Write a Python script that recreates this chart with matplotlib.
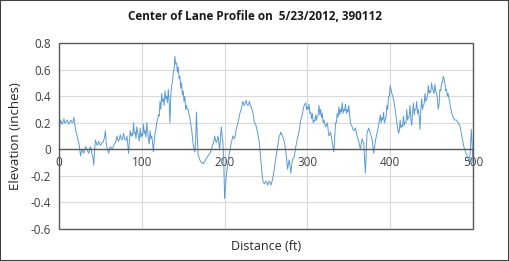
import numpy as np
import matplotlib
matplotlib.use("Agg")
import matplotlib.pyplot as plt
from matplotlib.patches import Rectangle

title = "Center of Lane Profile on  5/23/2012, 390112"
x_label = "Distance (ft)"
y_label = "Elevation (inches)"
x_ticks = [0, 100, 200, 300, 400, 500]
y_ticks = [-0.6, -0.4, -0.2, 0, 0.2, 0.4, 0.6, 0.8]
y_tick_labels = ["-0.6", "-0.4", "-0.2", "0", "0.2", "0.4", "0.6", "0.8"]

# elevation at even distances 0, 2, ..., 500 ft
elevation_even = [
    0.13, 0.22, 0.19, 0.23, 0.20, 0.22, 0.19, 0.22, 0.20, 0.24,
    0.15, 0.10, 0.05, -0.05, 0.00, -0.03, 0.02, 0.00, -0.03, 0.02,
    -0.04, -0.12, 0.07, 0.03, 0.06, 0.03, 0.05, 0.07, 0.14, 0.01,
    -0.03, 0.02, 0.00, 0.03, 0.05, 0.10, 0.06, 0.11, 0.07, 0.12,
    0.07, 0.10, -0.03, 0.14, 0.12, 0.20, 0.13, 0.17, 0.10, 0.16,
    0.12, 0.19, 0.14, 0.20, 0.08, 0.14, 0.10, -0.02, 0.12, 0.20,
    0.26, 0.36, 0.42, 0.38, 0.44, 0.40, 0.45, 0.20, 0.48, 0.58,
    0.70, 0.65, 0.62, 0.55, 0.50, 0.44, 0.40, 0.33, 0.30, 0.24,
    0.16, 0.04, -0.02, 0.28, -0.04, -0.08, -0.10, -0.11, -0.09, -0.07,
    -0.05, -0.03, 0.00, 0.04, 0.10, 0.05, 0.10, 0.00, 0.17, 0.05,
    -0.37, -0.20, -0.10, -0.02, 0.05, 0.10, 0.08, 0.15, 0.20, 0.26,
    0.30, 0.36, 0.33, 0.37, 0.33, 0.36, 0.32, 0.28, 0.20, 0.18,
    0.12, 0.05, -0.10, -0.23, -0.26, -0.24, -0.27, -0.24, -0.27, -0.22,
    -0.15, -0.06, 0.02, 0.10, 0.13, 0.10, 0.06, -0.02, -0.15, -0.08,
    -0.18, -0.08, -0.06, 0.02, 0.08, 0.14, 0.22, 0.27, 0.33, 0.35,
    0.32, 0.34, 0.28, 0.27, 0.22, 0.26, 0.25, 0.33, 0.30, 0.27,
    0.22, 0.17, 0.20, 0.10, 0.13, 0.05, -0.02, 0.20, 0.27, 0.32,
    0.30, 0.35, 0.30, 0.34, 0.30, 0.33, 0.20, 0.17, 0.14, 0.16,
    0.10, 0.06, 0.00, 0.08, 0.05, -0.18, 0.12, 0.16, 0.12, 0.08,
    -0.03, 0.06, 0.12, 0.18, 0.26, 0.24, 0.28, 0.22, 0.33, 0.40,
    0.48, 0.42, 0.38, 0.30, 0.20, 0.12, 0.22, 0.18, 0.25, 0.20,
    0.30, 0.24, 0.33, 0.18, 0.35, 0.30, 0.36, 0.30, 0.15, 0.38,
    0.33, 0.42, 0.38, 0.48, 0.44, 0.50, 0.44, 0.49, 0.42, 0.30,
    0.45, 0.50, 0.55, 0.50, 0.45, 0.42, 0.35, 0.28, 0.24, 0.22,
    0.22, 0.20, 0.18, 0.12, 0.05, 0.00, -0.04, -0.07, -0.09, 0.15,
    -0.10,
]

# elevation at odd distances 1, 3, ..., 499 ft
elevation_odd = [
    0.18, 0.20, 0.21, 0.20, 0.21, 0.20, 0.20, 0.21, 0.21, 0.19,
    0.12, 0.07, 0.00, -0.02, -0.02, 0.00, 0.01, -0.02, 0.00, -0.01,
    -0.06, 0.00, 0.05, 0.04, 0.04, 0.04, 0.05, 0.09, 0.05, -0.01,
    0.00, 0.01, 0.01, 0.04, 0.07, 0.07, 0.08, 0.08, 0.09, 0.08,
    0.07, 0.04, 0.06, 0.10, 0.10, 0.12, 0.08, 0.13, 0.06, 0.09,
    0.10, 0.12, 0.09, 0.14, 0.04, 0.08, 0.05, 0.06, 0.15, 0.22,
    0.25, 0.30, 0.36, 0.33, 0.38, 0.35, 0.36, 0.40, 0.50, 0.60,
    0.64, 0.58, 0.53, 0.46, 0.41, 0.36, 0.30, 0.30, 0.26, 0.19,
    0.10, 0.01, 0.06, 0.10, -0.06, -0.09, -0.10, -0.10, -0.08, -0.06,
    -0.04, -0.02, 0.02, 0.06, 0.07, 0.07, 0.05, 0.08, 0.10, -0.10,
    -0.28, -0.15, -0.06, 0.01, 0.07, 0.09, 0.11, 0.17, 0.22, 0.28,
    0.33, 0.34, 0.35, 0.34, 0.34, 0.33, 0.30, 0.24, 0.19, 0.15,
    0.08, -0.03, -0.17, -0.25, -0.25, -0.25, -0.25, -0.25, -0.25, -0.19,
    -0.10, -0.02, 0.06, 0.11, 0.11, 0.08, 0.02, -0.08, -0.11, -0.13,
    -0.12, -0.07, -0.02, 0.05, 0.11, 0.18, 0.24, 0.30, 0.34, 0.30,
    0.30, 0.27, 0.23, 0.20, 0.21, 0.22, 0.26, 0.26, 0.24, 0.20,
    0.19, 0.18, 0.15, 0.11, 0.09, 0.02, 0.09, 0.20, 0.24, 0.26,
    0.28, 0.27, 0.29, 0.27, 0.28, 0.26, 0.18, 0.15, 0.15, 0.13,
    0.08, 0.03, 0.04, 0.06, -0.06, -0.03, 0.14, 0.14, 0.10, 0.03,
    0.01, 0.09, 0.15, 0.22, 0.20, 0.22, 0.20, 0.24, 0.30, 0.40,
    0.45, 0.40, 0.34, 0.25, 0.16, 0.14, 0.16, 0.17, 0.18, 0.20,
    0.22, 0.25, 0.22, 0.28, 0.26, 0.30, 0.27, 0.25, 0.30, 0.30,
    0.34, 0.36, 0.40, 0.42, 0.43, 0.46, 0.42, 0.44, 0.38, 0.34,
    0.44, 0.50, 0.53, 0.44, 0.40, 0.38, 0.31, 0.26, 0.23, 0.22,
    0.21, 0.19, 0.15, 0.08, 0.02, -0.02, -0.05, -0.08, 0.03, 0.02,
]

distance = np.arange(0, 501)
elevation = np.empty(501)
elevation[0::2] = elevation_even
elevation[1::2] = elevation_odd

plt.rcParams['font.family'] = ['Open Sans', 'DejaVu Sans']
fig = plt.figure(figsize=(5.09, 2.61), dpi=100)
W, H = 509, 261
ax = fig.add_axes([59 / W, 1 - 229 / H, (473 - 59) / W, (229 - 43) / H])

ax.plot(distance, elevation, color="#5b9bd5", linewidth=0.7)
ax.set_xlim(0, 500)
ax.set_ylim(-0.6, 0.8)
ax.set_xticks(x_ticks)
ax.set_yticks(y_ticks)
ax.set_yticklabels(y_tick_labels)
ax.grid(True, color="#d9d9d9", linewidth=0.8)
ax.set_axisbelow(True)

for s in ["top", "left", "right"]:
    ax.spines[s].set_visible(False)
ax.spines["bottom"].set_position(("data", 0))
ax.spines["bottom"].set_color("#595959")
ax.spines["bottom"].set_linewidth(1.0)
ax.add_patch(Rectangle((0, 0), 1, 1, transform=ax.transAxes, fill=False,
                       edgecolor="#595959", linewidth=1.0, clip_on=False, zorder=5))

ax.tick_params(axis="both", length=0, labelsize=8.5, colors="#404040")
ax.tick_params(axis="x", pad=5)
ax.tick_params(axis="y", pad=6)

ax.set_xlabel(x_label, fontsize=9, color="#262626", labelpad=0)
ax.xaxis.set_label_coords(0.5, -0.06)
ax.set_ylabel(y_label, fontsize=9.5, color="#262626", labelpad=6)
fig.text(0.5, 1 - 17 / H, title, ha="center", va="center", fontsize=8.5,
         fontweight="bold", color="#1a1a1a")

fig.patches.append(Rectangle((0, 0), 1, 1, transform=fig.transFigure, fill=False,
                             edgecolor="#404040", linewidth=1.5))
fig.savefig("out.png", dpi=100)
